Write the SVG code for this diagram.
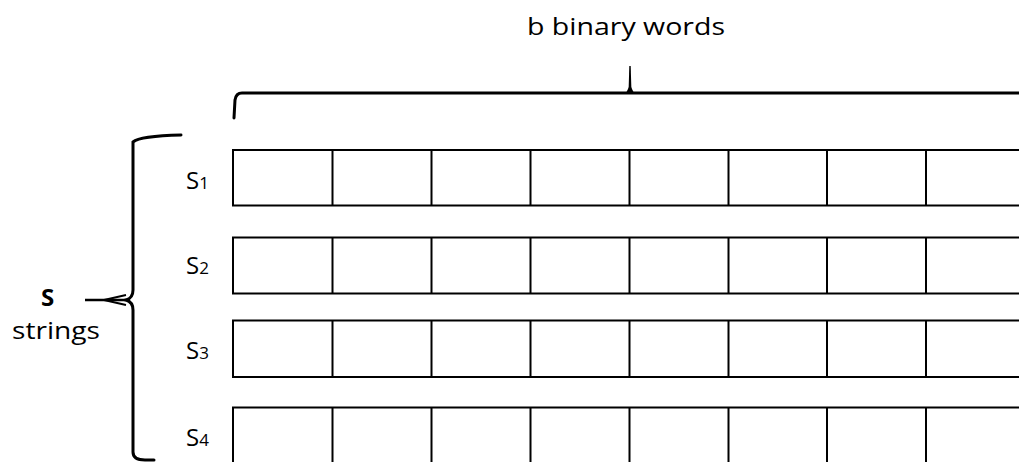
<svg xmlns="http://www.w3.org/2000/svg" width="1019" height="462" viewBox="0 0 1019 462">
  <style>
    .cell { fill: #fff; stroke: #000; stroke-width: 2; }
    .lbl { font-family: "Open Sans", "Noto Sans", sans-serif; font-size: 24px; fill: #000; }
    .sub { font-size: 17px; }
    .brace { fill: none; stroke: #000; stroke-width: 3; stroke-linecap: round; }
  </style>
  <rect x="0" y="0" width="1019" height="462" fill="#fff"/>

  <g id="title">
    <text class="lbl" x="527" y="35" font-size="26" textLength="198" lengthAdjust="spacingAndGlyphs">b binary words</text>
  </g>

  <g id="connectors">
    <!-- top brace -->
    <path class="brace" d="M234,118 L235,100 Q236,93 242,93 L1019,93"/>
    <path d="M628.5,93 L629.3,66 L630.7,66 L631.5,93 Z" fill="#000"/>
    <path d="M626,93 L630,85 L634,93 Z" fill="#000"/>
    <!-- left brace -->
    <path class="brace" d="M181,135 Q140,136 133,142 L133,290 Q133,298 126,300 Q133,302 133,310 L133,452 Q133,460 145,460 L154,460"/>
    <path d="M85,300 L126,300" stroke="#000" stroke-width="2.5" fill="none"/>
    <path d="M104,300 L126,295 M104,300 L126,305" stroke="#000" stroke-width="1.8" fill="none"/>
  </g>

  <g id="s-label">
    <text class="lbl" x="41" y="306" font-weight="bold" font-size="25">S</text>
    <text class="lbl" x="12" y="339" font-size="24" textLength="88" lengthAdjust="spacingAndGlyphs">strings</text>
  </g>

  <g id="row-s1">
    <text class="lbl" x="186" y="189">S<tspan class="sub">1</tspan></text>
    <path class="cell" d="M1019,150 L233,150 L233,205.5 L1019,205.5"/>
    <path class="cell" d="M332.5,150V205.5M431.5,150V205.5M530.5,150V205.5M629.5,150V205.5M728.5,150V205.5M827,150V205.5M926,150V205.5"/>
  </g>

  <g id="row-s2">
    <text class="lbl" x="186" y="274">S<tspan class="sub">2</tspan></text>
    <path class="cell" d="M1019,237.5 L233,237.5 L233,293.5 L1019,293.5"/>
    <path class="cell" d="M332.5,237.5V293.5M431.5,237.5V293.5M530.5,237.5V293.5M629.5,237.5V293.5M728.5,237.5V293.5M827,237.5V293.5M926,237.5V293.5"/>
  </g>

  <g id="row-s3">
    <text class="lbl" x="186" y="359">S<tspan class="sub">3</tspan></text>
    <path class="cell" d="M1019,320.5 L233,320.5 L233,377 L1019,377"/>
    <path class="cell" d="M332.5,320.5V377M431.5,320.5V377M530.5,320.5V377M629.5,320.5V377M728.5,320.5V377M827,320.5V377M926,320.5V377"/>
  </g>

  <g id="row-s4">
    <text class="lbl" x="186" y="446">S<tspan class="sub">4</tspan></text>
    <path class="cell" d="M1019,407.5 L233,407.5 L233,462"/>
    <path class="cell" d="M332.5,407.5V462M431.5,407.5V462M530.5,407.5V462M629.5,407.5V462M728.5,407.5V462M827,407.5V462M926,407.5V462"/>
  </g>
</svg>
